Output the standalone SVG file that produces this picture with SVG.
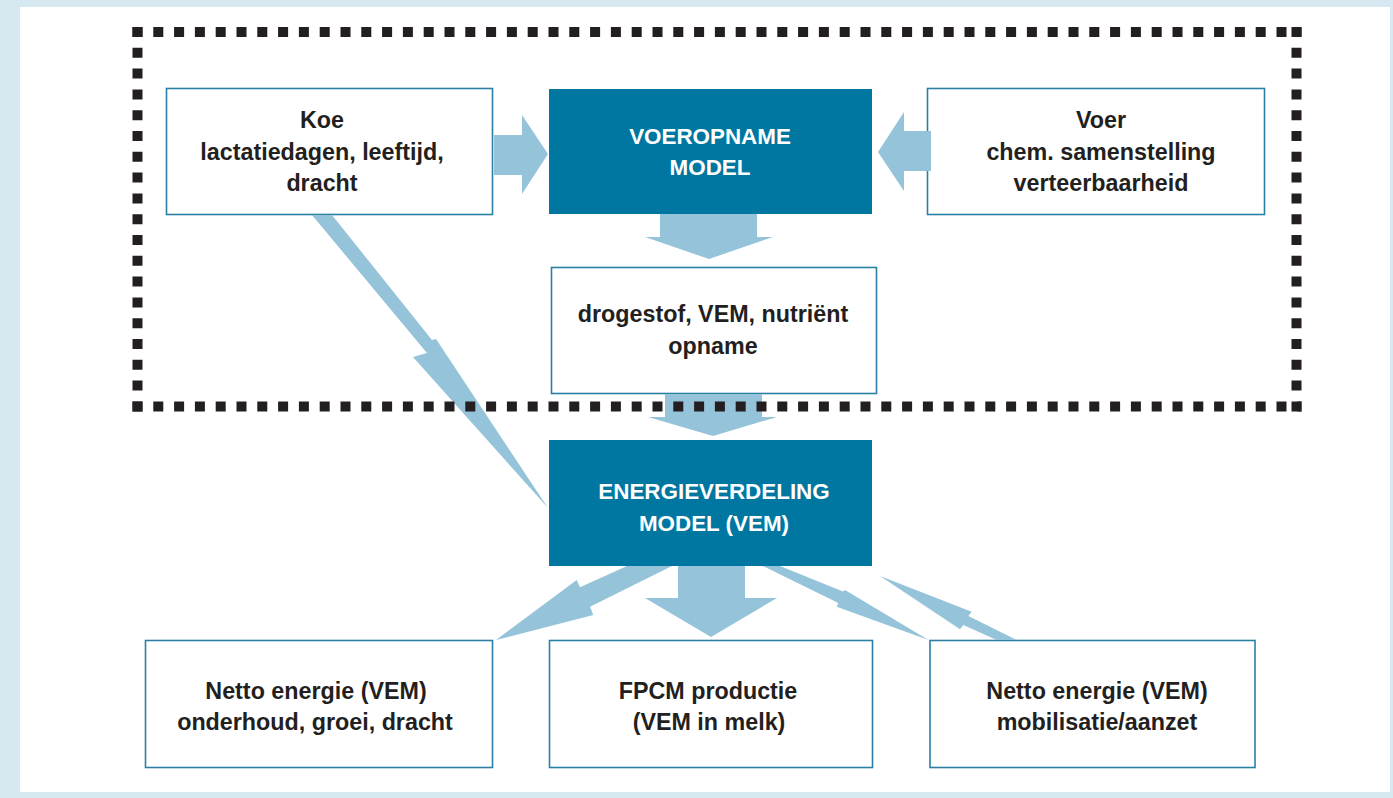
<svg xmlns="http://www.w3.org/2000/svg" width="1393" height="798" viewBox="0 0 1393 798">
<style>
.box{fill:#ffffff;stroke:#2b7fa3;stroke-width:1.6}
.dark{fill:#0077a1}
.t{font-family:"Liberation Sans",Arial,sans-serif;font-weight:bold;font-size:23.3px;fill:#231f20;text-anchor:middle}
.w{font-family:"Liberation Sans",Arial,sans-serif;font-weight:bold;font-size:22.4px;fill:#ffffff;text-anchor:middle}
.arr{fill:#95c3d9}
.dots{stroke:#231f20;stroke-width:10;stroke-dasharray:10 10.8;fill:none}
</style>
<rect x="0" y="0" width="1393" height="798" fill="#d6e9f1"/>
<rect x="20" y="7" width="1370" height="785" fill="#ffffff"/>

<g id="koe">
<rect class="box" x="166.5" y="88.5" width="326" height="126"/>
<text class="t" x="322" y="128">Koe</text>
<text class="t" x="322" y="159.5">lactatiedagen, leeftijd,</text>
<text class="t" x="322" y="190.5">dracht</text>
</g>
<g id="voeropname">
<rect class="dark" x="549" y="89" width="323" height="125"/>
<text class="w" x="710" y="144">VOEROPNAME</text>
<text class="w" x="710" y="175">MODEL</text>
</g>
<g id="voer">
<rect class="box" x="927.5" y="88.5" width="337" height="126"/>
<text class="t" x="1101" y="128">Voer</text>
<text class="t" x="1101" y="159.5">chem. samenstelling</text>
<text class="t" x="1101" y="190.5">verteerbaarheid</text>
</g>
<g id="opname">
<rect class="box" x="551.5" y="267.5" width="325" height="126"/>
<text class="t" x="713" y="322">drogestof, VEM, nutriënt</text>
<text class="t" x="713" y="353.5">opname</text>
</g>
<g id="energieverdeling">
<rect class="dark" x="549" y="440" width="323" height="126"/>
<text class="w" x="714" y="499">ENERGIEVERDELING</text>
<text class="w" x="714" y="531">MODEL (VEM)</text>
</g>
<g id="onderhoud">
<rect class="box" x="145.5" y="640.5" width="347" height="127"/>
<text class="t" x="316" y="699">Netto energie (VEM)</text>
<text class="t" x="315" y="730">onderhoud, groei, dracht</text>
</g>
<g id="fpcm">
<rect class="box" x="549.5" y="640.5" width="323" height="127"/>
<text class="t" x="708" y="699">FPCM productie</text>
<text class="t" x="709" y="730">(VEM in melk)</text>
</g>
<g id="mobilisatie">
<rect class="box" x="930" y="640.5" width="325" height="127"/>
<text class="t" x="1097" y="699">Netto energie (VEM)</text>
<text class="t" x="1097" y="730">mobilisatie/aanzet</text>
</g>

<g id="connectors">
<polygon class="arr" points="494,135 522,135 522,115 548,154 522,194 522,175 494,175"/>
<polygon class="arr" points="931,131 904,131 904,112 878,152 904,191 904,171 931,171"/>
<polygon class="arr" points="660,214 757,214 757,237 773,237 709,259 645,237 660,237"/>
<polygon class="arr" points="665,394 762,394 762,417 777,417 713,436 648,417 665,417"/>
<polygon class="arr" points="312,215 332,215 432,340 436,339 548,508 413,357 427,353"/>
<polygon class="arr" points="678,566 745,566 745,598 777,598 711,637 645,598 678,598"/>
<polygon class="arr" points="627,566 672,566 590,606.7 593.3,615 496,640 576.7,580 580,587.3"/>
<polygon class="arr" points="780,566 843,591.5 845,590 928.5,640 836.7,606.7 838.3,603 763,566"/>
<polygon class="arr" points="880,576 971.7,611.7 968.3,616 1016.7,640 996.7,640 963.3,625 960,629.3"/>
</g>

<g id="frame">
<line class="dots" x1="132.5" y1="32" x2="1301.5" y2="32"/>
<line class="dots" x1="137.5" y1="27" x2="137.5" y2="411.5"/>
<line class="dots" x1="1296.5" y1="27" x2="1296.5" y2="411.5"/>
<line class="dots" x1="132.5" y1="406.5" x2="1301.5" y2="406.5"/>
</g>
</svg>
